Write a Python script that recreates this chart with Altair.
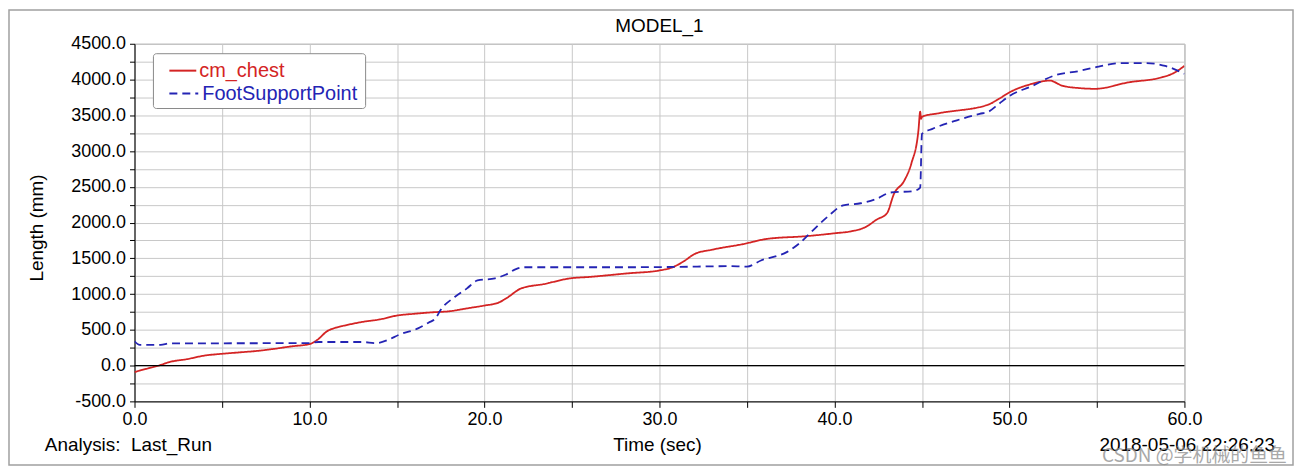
import altair as alt
import pandas as pd

# ---- data ----
series_names = ["cm_chest", "FootSupportPoint"]
series_colors = ["#d42424", "#2424b4"]

t_chest = [0, 0.3, 1.5, 2, 3, 4, 5, 6, 7, 8, 9, 10, 10.5, 11, 11.5, 12, 13, 14, 15, 16, 17, 18,
           19, 20, 20.8, 21.3, 22.1, 23.4, 24.9, 26, 28.2, 30, 30.8, 31.4, 32, 33, 34.8, 36.1,
           38.4, 40, 41, 41.8, 42.4, 43.0, 43.4, 44.0, 44.4, 44.8, 44.9, 44.95, 45.0, 46, 48.8,
           49.4, 50, 51.3, 52.3, 53, 54, 54.9, 56.8, 58.7, 59.3, 60]
v_chest = [-90, -70, 10, 50, 90, 140, 165, 185, 205, 235, 270, 300, 370, 480, 530, 560, 610, 645,
           700, 725, 745, 760, 800, 840, 880, 950, 1080, 1140, 1220, 1240, 1290, 1330, 1380, 1460,
           1560, 1620, 1700, 1770, 1810, 1850, 1880, 1940, 2040, 2130, 2400, 2590, 2830, 3290,
           3550, 3450, 3480, 3530, 3650, 3730, 3820, 3940, 3985, 3915, 3880, 3870, 3960, 4030,
           4080, 4190]

t_foot = [0, 0.3, 1.5, 2.0, 10, 10.5, 13, 13.8, 14.5, 15.1, 16.2, 16.8, 17.2, 17.5, 18.3, 19.0,
          19.6, 20.6, 21.2, 21.8, 22.3, 25, 28, 31, 33.9, 35.0, 35.8, 37.3, 38.0, 38.6, 39.6,
          40.5, 41.5, 42.4, 43.2, 44.5, 44.9, 45.0, 45.6, 47, 48.3, 48.8, 49.4, 50.0, 51.3, 52.5,
          54.0, 55.1, 56.3, 57.8, 58.9, 60]
v_foot = [340, 290, 290, 310, 315, 330, 330, 315, 360, 430, 520, 600, 660, 780, 960, 1080, 1190,
          1220, 1270, 1350, 1375, 1375, 1375, 1380, 1390, 1385, 1470, 1590, 1710, 1850, 2080,
          2240, 2270, 2330, 2420, 2440, 2490, 3240, 3310, 3430, 3520, 3550, 3660, 3770, 3910,
          4050, 4120, 4180, 4230, 4230, 4190, 4080]

x_ticks = [0, 5, 10, 15, 20, 25, 30, 35, 40, 45, 50, 55, 60]
y_ticks = [-500, -250, 0, 250, 500, 750, 1000, 1250, 1500, 1750, 2000, 2250, 2500, 2750,
           3000, 3250, 3500, 3750, 4000, 4250, 4500]

title_text = "MODEL_1"
x_title = "Time (sec)"
y_title = "Length (mm)"
analysis_text = "Analysis:\u00a0 Last_Run"
date_text = "2018-05-06 22:26:23"
watermark_text = "CSDN @学机械的鱼鱼"

FONT = "Liberation Sans"
W, H = 1054, 359

rows = []
for i, (t, v) in enumerate(zip(t_chest, v_chest)):
    rows.append({"t": t, "v": v, "series": series_names[0], "o": i})
for i, (t, v) in enumerate(zip(t_foot, v_foot)):
    rows.append({"t": t, "v": v, "series": series_names[1], "o": i})
df = pd.DataFrame(rows)

x_scale = alt.Scale(domain=[0, 60], nice=False, zero=False)
y_scale = alt.Scale(domain=[-500, 4500], nice=False, zero=False)

fmt = ("(datum.value < 0 ? '-' : '') + format(abs(datum.value), '.1f')")

lines = alt.Chart(df).mark_line(strokeWidth=1.8, clip=True, interpolate="monotone").encode(
    x=alt.X("t:Q", scale=x_scale, title=None,
            axis=alt.Axis(values=x_ticks,
                          labelExpr="datum.value % 10 == 0 ? " + fmt + " : ''",
                          grid=True, gridColor="#c8c8c8", domainColor="#000000",
                          tickColor="#000000", tickSize=6, labelFontSize=18, labelFont=FONT,
                          labelColor="#000000", labelPadding=3, labelFlush=False,
                          labelOverlap=False)),
    y=alt.Y("v:Q", scale=y_scale, title=None,
            axis=alt.Axis(values=y_ticks,
                          labelExpr="datum.value % 500 == 0 ? " + fmt + " : ''",
                          grid=True, gridColor="#c8c8c8", domainColor="#000000",
                          tickColor="#000000", tickSize=5, labelFontSize=18, labelFont=FONT,
                          labelColor="#000000", labelPadding=4, labelFlush=False,
                          labelOverlap=False)),
    color=alt.Color("series:N", scale=alt.Scale(domain=series_names, range=series_colors),
                    legend=None),
    strokeDash=alt.StrokeDash("series:N",
                              scale=alt.Scale(domain=series_names, range=[[1, 0], [8, 5]]),
                              legend=None),
    order="o:Q",
)

zero = alt.Chart(pd.DataFrame({"z": [0]})).mark_rule(color="#000000", strokeWidth=1.3).encode(
    y=alt.Y("z:Q", scale=y_scale, axis=None, title=None))

one = pd.DataFrame({"a": [0]})

legend_box = alt.Chart(one).mark_rect(fill="white", stroke="#8a8a8a", strokeWidth=1,
                                      cornerRadius=3).encode(
    x=alt.value(19), x2=alt.value(232), y=alt.value(10), y2=alt.value(65))

leg_red = alt.Chart(one).mark_rule(color=series_colors[0], strokeWidth=2).encode(
    x=alt.value(35), x2=alt.value(62), y=alt.value(27))
leg_blue = alt.Chart(one).mark_rule(color=series_colors[1], strokeWidth=2,
                                    strokeDash=[8, 5]).encode(
    x=alt.value(35), x2=alt.value(64), y=alt.value(50))

leg_df = pd.DataFrame({"name": series_names, "ypos": [27, 50], "xpos": [65, 68],
                       "col": series_colors})
leg_text = alt.Chart(leg_df).mark_text(align="left", baseline="middle", fontSize=20,
                                       font=FONT).encode(
    x=alt.X("xpos:Q", scale=None, axis=None), y=alt.Y("ypos:Q", scale=None, axis=None),
    text="name:N", color=alt.Color("col:N", scale=None))

def label(txt, x, y, align="center", size=19, angle=0, color="#000000", font=FONT, opacity=1):
    return alt.Chart(pd.DataFrame({"t": [txt]})).mark_text(
        align=align, baseline="middle", fontSize=size, font=font, angle=angle,
        color=color, opacity=opacity).encode(x=alt.value(x), y=alt.value(y), text="t:N")

title = label(title_text, 527, -18)
xt = label(x_title, 525, 403)
yt = label(y_title, -98, 185, angle=270)
an = label(analysis_text, -90, 403, align="left")
dt = label(date_text, 1145, 403, align="right")
wm = label(watermark_text, 1157, 414, align="right", size=19, color="#8c8c8c",
           font="Noto Sans CJK SC", opacity=0.75)

border = alt.Chart(one).mark_rect(fill=None, stroke="#a0a0a0", strokeWidth=1.5).encode(
    x=alt.value(-126), x2=alt.value(1163), y=alt.value(-34), y2=alt.value(423))

chart = alt.layer(
    border, lines, zero, legend_box, leg_red, leg_blue, leg_text,
    title, xt, yt, an, dt, wm
).resolve_axis(y="independent").properties(
    width=W, height=H,
    padding={"left": 127, "top": 35, "right": 111, "bottom": 66},
    autosize=alt.AutoSizeParams(type="none"),
    background="white",
).configure_view(stroke="#a0a0a0", strokeWidth=1)

chart.save("out.html", embed_options={"renderer": "svg", "actions": False})
